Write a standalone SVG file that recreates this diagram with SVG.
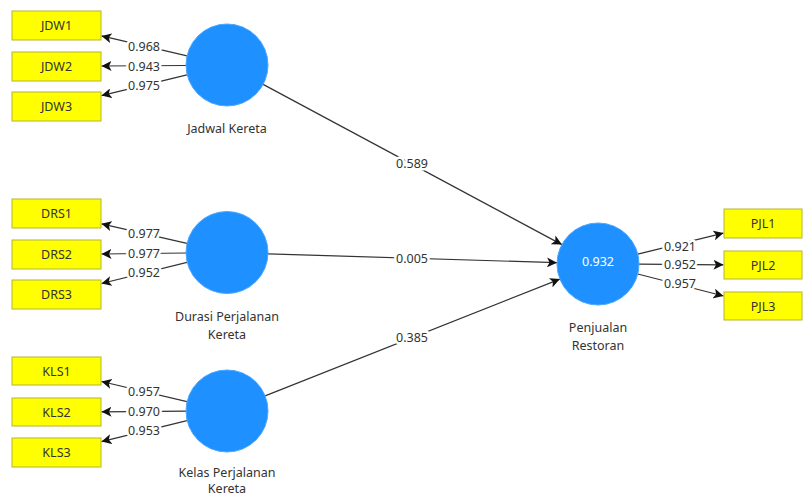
<svg xmlns="http://www.w3.org/2000/svg" width="803" height="497" viewBox="0 0 803 497">
<defs>
<marker id="ah" viewBox="0 0 10 10" refX="10" refY="5" markerWidth="10" markerHeight="10" markerUnits="userSpaceOnUse" orient="auto">
<path d="M0,0 L10,5 L0,10 L2.5,5 Z" fill="#111"/>
</marker>
<style>
.box{fill:#ffff00;stroke:#b5b530;stroke-width:1}
.lv{fill:#1e90ff;stroke:#4aa8ff;stroke-width:1}
.t{font-family:"Noto Sans","Open Sans",sans-serif;font-size:12.5px;fill:#333;text-anchor:middle}
.ln{stroke:#333;stroke-width:1.2;fill:none;marker-end:url(#ah)}
.lb{font-family:"Noto Sans","Open Sans",sans-serif;font-size:12.5px;fill:#333;text-anchor:middle;stroke:#fff;stroke-width:5;paint-order:stroke;stroke-linejoin:round}
</style>
</defs>
<rect width="803" height="497" fill="#ffffff"/>
<g id="connectors">
<line class="ln" x1="187" y1="55.8" x2="101.5" y2="35.9"/>
<line class="ln" x1="186" y1="65.5" x2="101.5" y2="66"/>
<line class="ln" x1="187" y1="74.8" x2="101.5" y2="95.6"/>
<line class="ln" x1="187" y1="243.4" x2="101.5" y2="223.8"/>
<line class="ln" x1="186" y1="253" x2="101.5" y2="254"/>
<line class="ln" x1="187" y1="262.3" x2="101.5" y2="283.5"/>
<line class="ln" x1="187" y1="401.7" x2="101.5" y2="381.5"/>
<line class="ln" x1="186" y1="411.2" x2="101.5" y2="411.8"/>
<line class="ln" x1="187" y1="420.7" x2="101.5" y2="441.6"/>
<line class="ln" x1="263.1" y1="84.4" x2="561.9" y2="244.6"/>
<line class="ln" x1="268" y1="253.8" x2="557" y2="262.7"/>
<line class="ln" x1="265.1" y1="395.9" x2="559.9" y2="279.1"/>
<line class="ln" x1="637.8" y1="254.2" x2="723.5" y2="233.1"/>
<line class="ln" x1="639" y1="264.2" x2="723.5" y2="264.8"/>
<line class="ln" x1="637.8" y1="274" x2="723.5" y2="296"/>
<text class="lb" x="144" y="51">0.968</text>
<text class="lb" x="144" y="70.5">0.943</text>
<text class="lb" x="144" y="90">0.975</text>
<text class="lb" x="144" y="238">0.977</text>
<text class="lb" x="144" y="257.5">0.977</text>
<text class="lb" x="144" y="277">0.952</text>
<text class="lb" x="144" y="396">0.957</text>
<text class="lb" x="144" y="415.5">0.970</text>
<text class="lb" x="144" y="435">0.953</text>
<text class="lb" x="412" y="168">0.589</text>
<text class="lb" x="412" y="263">0.005</text>
<text class="lb" x="412" y="342">0.385</text>
<text class="lb" x="680" y="251">0.921</text>
<text class="lb" x="680" y="268.5">0.952</text>
<text class="lb" x="680" y="288">0.957</text>
</g>
<g id="JDW1"><rect class="box" x="12" y="11" width="89" height="29"/><text class="t" x="56.5" y="30">JDW1</text></g>
<g id="JDW2"><rect class="box" x="12" y="52" width="89" height="29"/><text class="t" x="56.5" y="71">JDW2</text></g>
<g id="JDW3"><rect class="box" x="12" y="92" width="89" height="29"/><text class="t" x="56.5" y="111">JDW3</text></g>
<g id="DRS1"><rect class="box" x="12" y="199" width="89" height="29"/><text class="t" x="56.5" y="218">DRS1</text></g>
<g id="DRS2"><rect class="box" x="12" y="240" width="89" height="29"/><text class="t" x="56.5" y="259">DRS2</text></g>
<g id="DRS3"><rect class="box" x="12" y="280" width="89" height="29"/><text class="t" x="56.5" y="299">DRS3</text></g>
<g id="KLS1"><rect class="box" x="12" y="357" width="89" height="28"/><text class="t" x="56.5" y="375.5">KLS1</text></g>
<g id="KLS2"><rect class="box" x="12" y="398" width="89" height="28"/><text class="t" x="56.5" y="416.5">KLS2</text></g>
<g id="KLS3"><rect class="box" x="12" y="438" width="89" height="29"/><text class="t" x="56.5" y="457">KLS3</text></g>
<g id="PJL1"><rect class="box" x="724" y="209" width="78" height="29"/><text class="t" x="763" y="228">PJL1</text></g>
<g id="PJL2"><rect class="box" x="724" y="251" width="78" height="28"/><text class="t" x="763" y="269.5">PJL2</text></g>
<g id="PJL3"><rect class="box" x="724" y="292" width="78" height="28"/><text class="t" x="763" y="310.5">PJL3</text></g>
<g id="JadwalKereta"><circle class="lv" cx="227" cy="65" r="41"/><text class="t" x="227" y="133">Jadwal Kereta</text></g>
<g id="DurasiPerjalananKereta"><circle class="lv" cx="227" cy="252.5" r="41"/><text class="t" x="227" y="321">Durasi Perjalanan</text><text class="t" x="227" y="339">Kereta</text></g>
<g id="KelasPerjalananKereta"><circle class="lv" cx="227" cy="411" r="41"/><text class="t" x="227" y="477">Kelas Perjalanan</text><text class="t" x="227" y="493">Kereta</text></g>
<g id="PenjualanRestoran"><circle class="lv" cx="598" cy="264" r="41"/><text class="t" x="598" y="266" style="fill:#fff">0.932</text><text class="t" x="598" y="332">Penjualan</text><text class="t" x="598" y="350">Restoran</text></g>
</svg>
